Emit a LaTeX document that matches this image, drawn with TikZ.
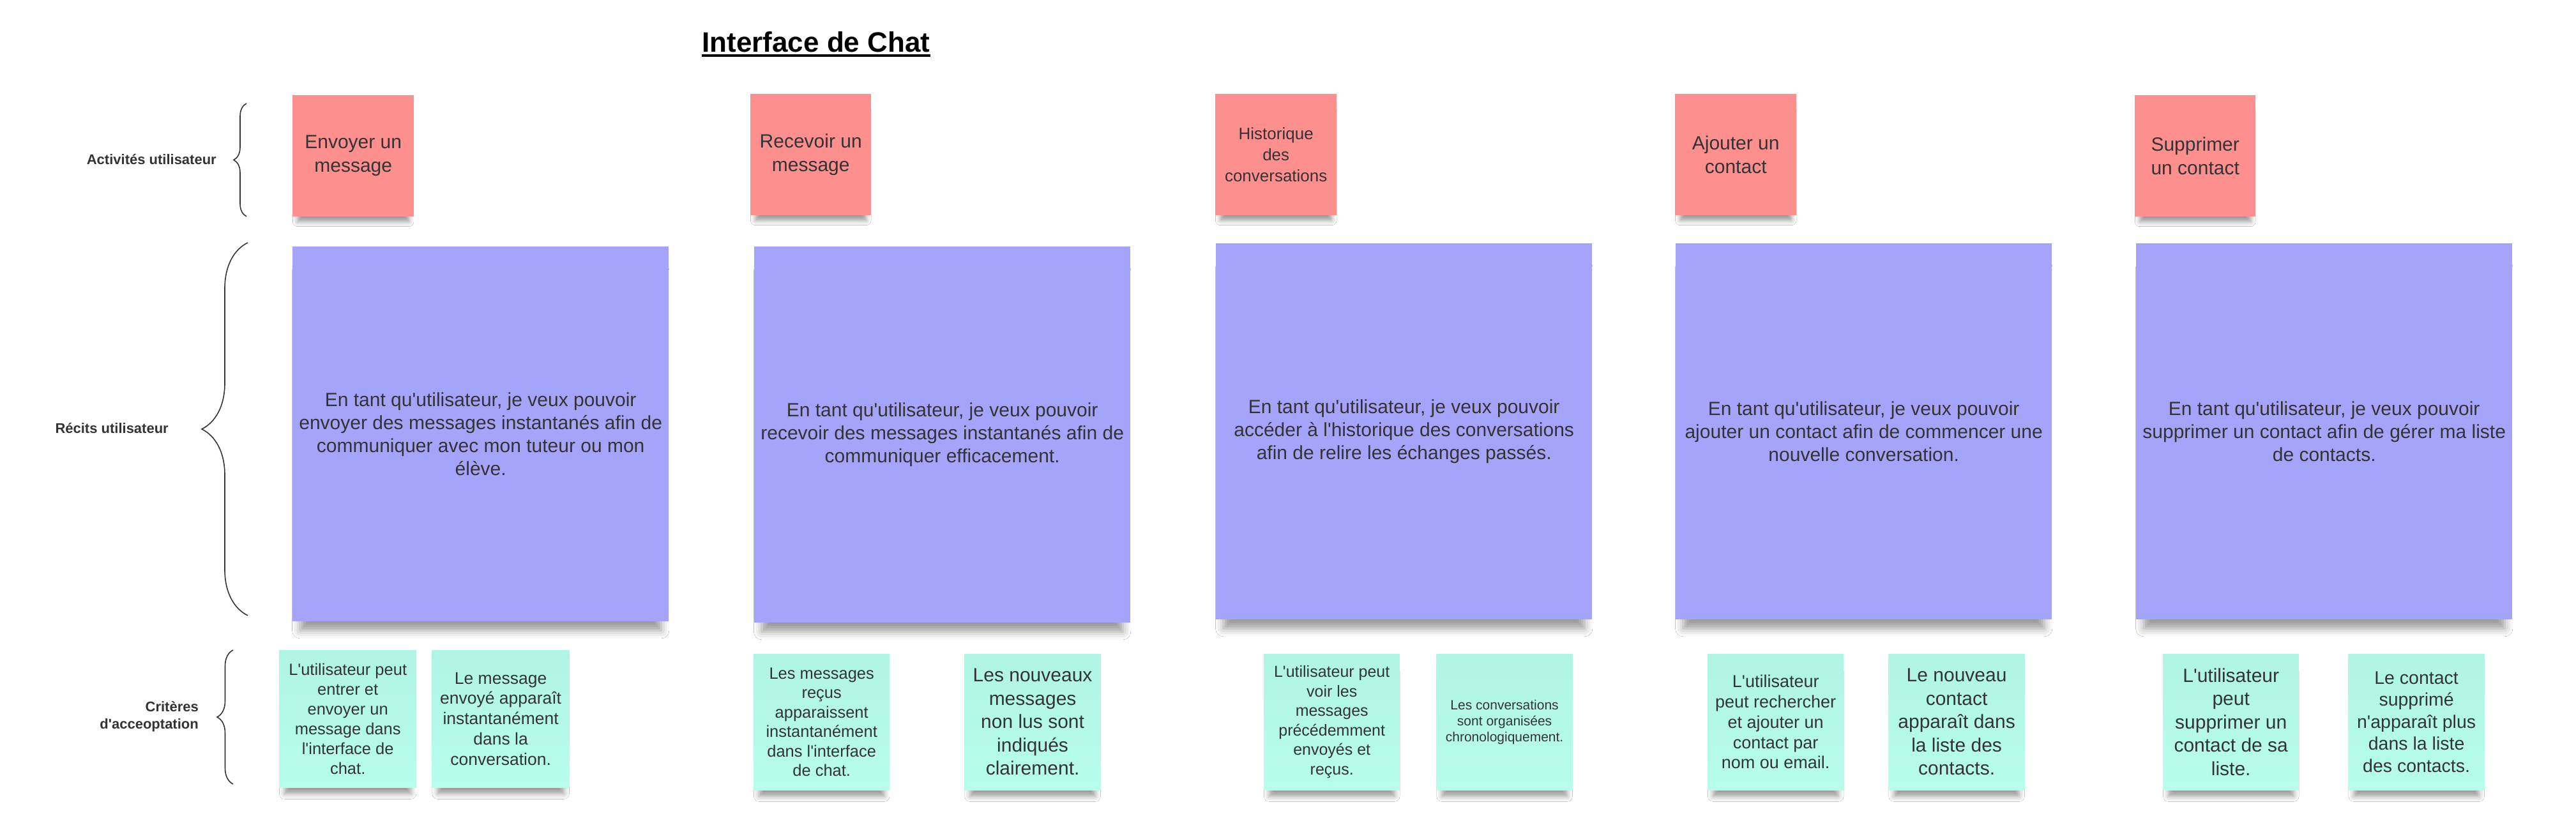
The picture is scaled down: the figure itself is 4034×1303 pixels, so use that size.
\documentclass[tikz,border=0pt]{standalone}
\usepackage{fontspec}
\setmainfont{Liberation Sans}
\usetikzlibrary{positioning,shadows.blur,decorations.pathreplacing}

\definecolor{ink}{HTML}{333333}
\definecolor{salmon}{HTML}{FD8F8F}
\definecolor{lavender}{HTML}{A4A4FA}
\definecolor{mintTop}{HTML}{B0F5E3}
\definecolor{mintBot}{HTML}{B7FDEC}

\newcommand{\fsz}[2]{\fontsize{#1}{#2}\selectfont}
\newcommand{\apos}{\textquotesingle}

\begin{document}
\begin{tikzpicture}[
    x=1pt, y=-1pt,
    note/.style={anchor=north west, inner sep=6pt, align=center, text=ink},
    sticky shadow/.style n args={3}{blur shadow={shadow xshift=0pt, shadow yshift=-#1,
        shadow scale=#2, shadow blur radius=#3, shadow opacity=40}},
    activity/.style={note, fill=salmon, minimum width=190pt, minimum height=190pt,
        font=\fsz{30}{37}, sticky shadow={17pt}{0.92}{8pt}},
    story/.style={note, fill=lavender, minimum width=589pt, minimum height=589pt,
        font=\fsz{30}{36}, sticky shadow={27pt}{0.96}{13pt}},
    crit/.style={note, top color=mintTop, bottom color=mintBot, minimum width=213pt, minimum height=213pt,
        sticky shadow={20pt}{0.92}{9pt}},
    rowlabel/.style={anchor=east, inner sep=0pt, align=right, text=ink, font=\bfseries\fsz{22}{27}},
    rowbrace/.style={draw=ink, line width=1.6pt, decorate, decoration={brace, amplitude=#1}}
]
\fill[white] (0,0) rectangle (4034,1303);
\useasboundingbox (0,0) rectangle (4034,1303);

% titre
\node[anchor=base, inner sep=0pt, font=\bfseries\fsz{44}{53}] (titre) at (1278,82) {Interface de Chat};
\draw[line width=4pt] ([yshift=-5pt]titre.base west) -- ([yshift=-5pt]titre.base east);

% lignes
\node[rowlabel] (lblActivites) at (339,250) {Activités utilisateur};
\node[rowlabel] (lblRecits) at (264,671) {Récits utilisateur};
\node[rowlabel] (lblCriteres) at (311,1122) {Critères\\d\apos acceoptation};

\coordinate (actTop) at (386,162);
\coordinate (actBot) at (386,339);
\coordinate (recTop) at (388,380);
\coordinate (recBot) at (388,964);
\coordinate (critTop) at (365,1018);
\coordinate (critBot) at (365,1228);
\draw[rowbrace=20pt] (actBot) -- (actTop);
\draw[rowbrace=72pt] (recBot) -- (recTop);
\draw[rowbrace=25pt] (critBot) -- (critTop);

% activites
\node[activity] (envoyer) at (458,149) {Envoyer un\\message};
\node[activity, minimum width=189pt] (recevoir) at (1175,147) {Recevoir un\\message};
\node[activity, font=\fsz{26}{33}] (historique) at (1903,147) {Historique\\des\\conversations};
\node[activity] (ajouter) at (2623,147) {Ajouter un\\contact};
\node[activity, minimum width=189pt] (supprimer) at (3343,149) {Supprimer\\un contact};

% recits
\node[story, minimum height=587pt] (recitEnvoyer) at (458,386)
    {En tant qu\apos utilisateur, je veux pouvoir\\envoyer des messages instantanés afin de\\communiquer avec mon tuteur ou mon\\élève.};
\node[story] (recitRecevoir) at (1181,386)
    {En tant qu\apos utilisateur, je veux pouvoir\\recevoir des messages instantanés afin de\\communiquer efficacement.};
\node[story] (recitHistorique) at (1904,381)
    {En tant qu\apos utilisateur, je veux pouvoir\\accéder à l\apos historique des conversations\\afin de relire les échanges passés.};
\node[story] (recitAjouter) at (2624,381)
    {En tant qu\apos utilisateur, je veux pouvoir\\ajouter un contact afin de commencer une\\nouvelle conversation.};
\node[story] (recitSupprimer) at (3345,381)
    {En tant qu\apos utilisateur, je veux pouvoir\\supprimer un contact afin de gérer ma liste\\de contacts.};

% criteres
\node[crit, minimum width=215pt, minimum height=215pt, font=\fsz{25.5}{31}] (critEnvoyerA) at (437,1018)
    {L\apos utilisateur peut\\entrer et\\envoyer un\\message dans\\l\apos interface de\\chat.};
\node[crit, minimum width=215pt, minimum height=215pt, font=\fsz{26.5}{31.7}, right=24pt of critEnvoyerA] (critEnvoyerB)
    {Le message\\envoyé apparaît\\instantanément\\dans la\\conversation.};

\node[crit, font=\fsz{25.5}{30.5}] (critRecevoirA) at (1180,1024)
    {Les messages\\reçus\\apparaissent\\instantanément\\dans l\apos interface\\de chat.};
\node[crit, font=\fsz{30}{36.5}, right=117pt of critRecevoirA] (critRecevoirB)
    {Les nouveaux\\messages\\non lus sont\\indiqués\\clairement.};

\node[crit, font=\fsz{25}{30.5}] (critHistoriqueA) at (1979,1024)
    {L\apos utilisateur peut\\voir les\\messages\\précédemment\\envoyés et\\reçus.};
\node[crit, font=\fsz{21}{25}, right=57pt of critHistoriqueA] (critHistoriqueB)
    {Les conversations\\sont organisées\\chronologiquement.};

\node[crit, font=\fsz{27}{31.7}] (critAjouterA) at (2674,1024)
    {L\apos utilisateur\\peut rechercher\\et ajouter un\\contact par\\nom ou email.};
\node[crit, font=\fsz{30}{36.5}, right=70pt of critAjouterA] (critAjouterB)
    {Le nouveau\\contact\\apparaît dans\\la liste des\\contacts.};

\node[crit, font=\fsz{30}{36.5}] (critSupprimerA) at (3387,1024)
    {L\apos utilisateur\\peut\\supprimer un\\contact de sa\\liste.};
\node[crit, font=\fsz{28.5}{34.5}, right=77pt of critSupprimerA] (critSupprimerB)
    {Le contact\\supprimé\\n\apos apparaît plus\\dans la liste\\des contacts.};
\end{tikzpicture}
\end{document}
